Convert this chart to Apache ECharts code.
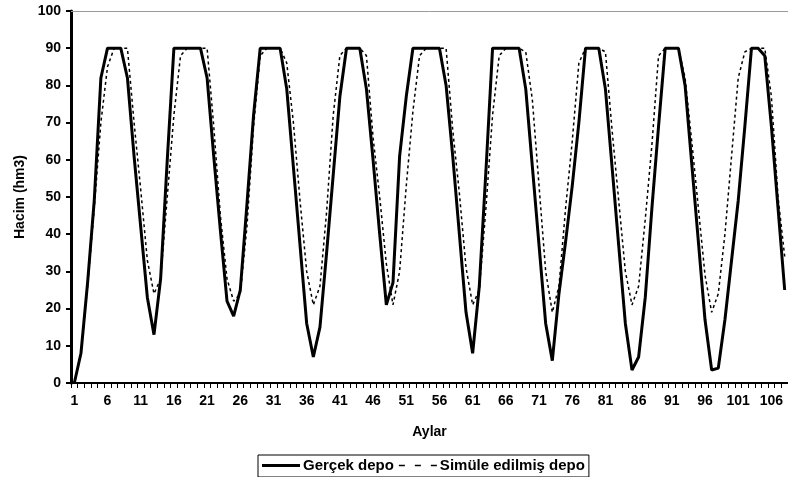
<!DOCTYPE html>
<html>
<head>
<meta charset="utf-8">
<script src="https://cdn.jsdelivr.net/npm/echarts@6/dist/echarts.min.js"></script>
<style>
html,body{margin:0;padding:0;background:#fff;}
#chart{width:788px;height:477px;}
</style>
</head>
<body>
<div id="chart"></div>
<script>
// Months 1..108 (category labels)
var months = Array.from({length: 108}, function (_, i) { return String(i + 1); });

var yTicks = [0, 10, 20, 30, 40, 50, 60, 70, 80, 90, 100];

// Gerçek depo (observed storage, hm3)
var gercekDepo = [
  0, 8, 27, 49, 82, 90, 90, 90, 82, 61, 42, 23,
  13, 28, 60, 90, 90, 90, 90, 90, 82, 61, 41, 22,
  18, 25, 48, 72, 90, 90, 90, 90, 79, 58, 37, 16,
  7, 15, 35, 56, 77, 90, 90, 90, 79, 60, 40, 21,
  27, 61, 77, 90, 90, 90, 90, 90, 80, 61, 40, 19,
  8, 26, 57, 90, 90, 90, 90, 90, 79, 58, 37, 16,
  6, 24, 38, 53, 70, 90, 90, 90, 79, 58, 37, 16,
  3.5, 7, 23, 47, 69, 90, 90, 90, 80, 59, 38, 17,
  3.5, 4, 17, 33, 49, 69, 90, 90, 88, 69, 47, 25
];

// Simüle edilmiş depo (simulated storage, hm3)
var simuleDepo = [
  0, 8, 26, 47, 70, 85, 90, 90, 90, 70, 52, 33,
  24, 28, 50, 72, 88, 90, 90, 90, 90, 69, 45, 28,
  22, 24, 42, 69, 88, 90, 90, 90, 86, 70, 49, 30,
  21, 26, 46, 72, 88, 90, 90, 90, 88, 66, 50, 32,
  21, 30, 53, 73, 88, 90, 90, 90, 90, 68, 51, 31,
  21, 25, 47, 72, 88, 90, 90, 90, 89, 76, 53, 30,
  19, 26, 47, 65, 86, 90, 90, 90, 89, 68, 49, 30,
  21, 26, 44, 64, 88, 90, 90, 90, 82, 65, 47, 29,
  19, 24, 40, 61, 82, 89, 90, 90, 90, 77, 50, 34
];

var FONT = "'Liberation Sans', Arial, sans-serif";
var SOLID_ICON = 'path://M0,0H38V3H0Z';
var DASH_ICON = 'path://M0,0H6V1.5H0Z M16,0H22V1.5H16Z M32,0H38V1.5H32Z';

var chart = echarts.init(document.getElementById('chart'), null, {renderer: 'canvas'});
chart.setOption({
  animation: false,
  backgroundColor: '#ffffff',
  grid: {left: 71, top: 11, width: 718, bottom: 94, containLabel: false},
  legend: {
    left: 258, top: 455,
    orient: 'horizontal',
    padding: [3, 4, 4, 4],
    itemGap: 5,
    itemWidth: 38,
    itemHeight: 14,
    borderColor: '#000', borderWidth: 1,
    textStyle: {fontFamily: FONT, fontWeight: 'bold', fontSize: 15, color: '#000', padding: [0, 0, 0, -2]},
    data: [
      {name: 'Gerçek depo', icon: SOLID_ICON},
      {name: 'Simüle edilmiş depo', icon: DASH_ICON}
    ]
  },
  xAxis: {
    type: 'category',
    data: months,
    boundaryGap: true,
    name: 'Aylar',
    nameLocation: 'middle',
    nameGap: 42,
    nameTextStyle: {fontFamily: FONT, fontWeight: 'bold', fontSize: 14, color: '#000'},
    axisLine: {lineStyle: {color: '#000', width: 2}},
    axisTick: {show: true, interval: 0, length: 5, lineStyle: {color: '#000', width: 1}},
    axisLabel: {interval: 4, margin: 11, fontFamily: FONT, fontWeight: 'bold', fontSize: 14, color: '#000'},
    splitLine: {show: false}
  },
  yAxis: {
    type: 'value',
    min: 0, max: 100, interval: 10,
    name: 'Hacim (hm3)',
    nameLocation: 'middle',
    nameGap: 39,
    nameRotate: 90,
    nameTextStyle: {fontFamily: FONT, fontWeight: 'bold', fontSize: 14, color: '#000'},
    axisLine: {show: true, lineStyle: {color: '#000', width: 3}},
    axisTick: {show: true, length: 5, lineStyle: {color: '#000', width: 2}},
    axisLabel: {margin: 10, fontFamily: FONT, fontWeight: 'bold', fontSize: 14, color: '#000',
      formatter: function (v) { return yTicks.indexOf(v) >= 0 ? String(v) : ''; }},
    splitLine: {show: false}
  },
  series: [
    {
      name: 'Gerçek depo',
      type: 'line',
      data: gercekDepo,
      symbol: 'none',
      showSymbol: false,
      lineStyle: {color: '#000', width: 3},
      itemStyle: {color: '#000'},
      markLine: {
        silent: true, symbol: 'none', label: {show: false},
        lineStyle: {color: '#9a9a9a', width: 1, type: 'solid'},
        data: [{yAxis: 100}]
      },
      z: 2
    },
    {
      name: 'Simüle edilmiş depo',
      type: 'line',
      data: simuleDepo,
      symbol: 'none',
      showSymbol: false,
      lineStyle: {color: '#000', width: 1.5, type: [3, 3]},
      itemStyle: {color: '#000'},
      z: 3
    }
  ]
});
</script>
</body>
</html>
